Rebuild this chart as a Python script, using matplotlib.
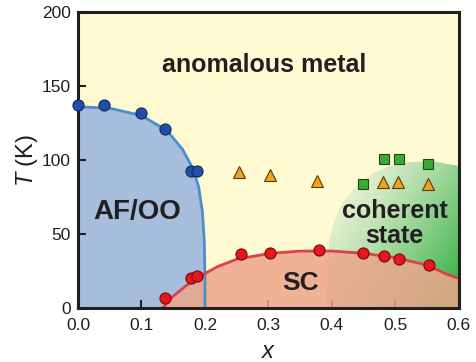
import numpy as np
import matplotlib
matplotlib.use("Agg")
import matplotlib.pyplot as plt
from matplotlib.path import Path
from matplotlib.patches import PathPatch

plt.rcParams['font.family'] = ['Liberation Sans', 'DejaVu Sans']
plt.rcParams['mathtext.fontset'] = 'custom'
plt.rcParams['mathtext.it'] = 'Liberation Sans:italic'
plt.rcParams['mathtext.rm'] = 'Liberation Sans'

# measured points
af_x = [0.0, 0.041, 0.10, 0.137, 0.178, 0.188]
af_T = [137, 137, 132, 121, 92.5, 92.5]

sc_x = [0.137, 0.178, 0.188, 0.256, 0.303, 0.379, 0.449, 0.482, 0.505, 0.553]
sc_T = [7, 20, 21.5, 36.5, 37, 39, 37, 35, 33, 29]

tri_x = [0.254, 0.302, 0.377, 0.480, 0.504, 0.551]
tri_T = [92, 90, 86, 85, 85, 84]

sq_x = [0.449, 0.482, 0.505, 0.551]
sq_T = [84, 101, 101, 97]

# phase boundaries (guides to the eye)
af_bx = [0.0, 0.05, 0.10, 0.14, 0.165, 0.18, 0.19, 0.196, 0.199, 0.200, 0.200]
af_bT = [136, 135, 130, 120, 107, 95, 82, 65, 45, 20, 0]

sc_bx = [0.133, 0.15, 0.17, 0.19, 0.22, 0.25, 0.30, 0.35, 0.40, 0.45, 0.50, 0.55, 0.58, 0.60]
sc_bT = [0, 8, 15, 21, 28, 33, 36.8, 38.5, 38.5, 37, 34, 29, 23, 20]

coh_bx = [0.392, 0.393, 0.396, 0.403, 0.415, 0.435, 0.46, 0.49, 0.52, 0.56, 0.60, 0.60]
coh_bT = [0, 30, 46, 58, 70, 81, 90, 96, 98.5, 99, 96, 0]

fig = plt.figure(figsize=(4.77, 3.62), dpi=100)
ax = fig.add_axes([0.1635, 0.149, 0.7985, 0.818])
ax.set_xlim(0, 0.6)
ax.set_ylim(0, 200)
ax.set_facecolor('#FFFAD2')

# AF/OO region
ax.fill_betweenx(af_bT, 0, af_bx, color='#A6BEDC', lw=0, zorder=1)

# coherent state region with green gradient
xs = np.linspace(0.39, 0.6, 200)
ts = np.linspace(0, 100, 200)
XX, TT = np.meshgrid(xs, ts)
g = np.clip(0.75 * (XX - 0.39) / 0.21 + 0.55 * (1 - TT / 100) - 0.25, 0, 1) ** 1.2
pale = np.array([228, 240, 210]) / 255
deep = np.array([50, 175, 65]) / 255
img = pale[None, None, :] * (1 - g[..., None]) + deep[None, None, :] * g[..., None]
im = ax.imshow(img, extent=(0.39, 0.6, 0, 100), origin='lower', aspect='auto', zorder=1)
clip = PathPatch(Path(np.column_stack([coh_bx, coh_bT])), transform=ax.transData, fc='none', lw=0)
ax.add_patch(clip)
im.set_clip_path(clip)

# SC dome
ax.fill_between(sc_bx, 0, sc_bT, color='#EDA68A', alpha=0.85, lw=0, zorder=2)

ax.plot(af_bx, af_bT, color='#4A90C8', lw=2, zorder=3)
ax.plot(sc_bx, sc_bT, color='#E0404A', lw=2, zorder=3)

ax.plot(af_x, af_T, 'o', ms=8, mfc='#1F4FA8', mec='#0E2A5E', mew=0.8, zorder=8, clip_on=False)
ax.plot(sc_x, sc_T, 'o', ms=8, mfc='#E8171E', mec='#6E0A0A', mew=0.8, zorder=5)
ax.plot(tri_x, tri_T, '^', ms=8, mfc='#F0A320', mec='#5A3A05', mew=0.8, zorder=5)
ax.plot(sq_x, sq_T, 's', ms=7, mfc='#3AAA35', mec='#1A4A15', mew=0.8, zorder=5)

ax.text(0.294, 164, 'anomalous metal', ha='center', va='center', fontsize=18, fontweight='bold', color='#231F20', zorder=6)
ax.text(0.093, 65, 'AF/OO', ha='center', va='center', fontsize=20, fontweight='bold', color='#231F20', zorder=6)
ax.text(0.351, 17, 'SC', ha='center', va='center', fontsize=19, fontweight='bold', color='#231F20', zorder=6)
ax.text(0.499, 57, 'coherent\nstate', ha='center', va='center', fontsize=18, fontweight='bold', color='#231F20', linespacing=1.05, zorder=6)

ax.set_xticks([0.0, 0.1, 0.2, 0.3, 0.4, 0.5, 0.6])
ax.set_xticklabels(['0.0', '0.1', '0.2', '0.3', '0.4', '0.5', '0.6'])
ax.set_yticks([0, 50, 100, 150, 200])
ax.tick_params(direction='in', length=6, width=1.5, labelsize=12.5, color='#231F20', labelcolor='#231F20')
ax.tick_params(axis='x', pad=7)
ax.tick_params(axis='y', pad=5)
for s in ax.spines.values():
    s.set_linewidth(2.2)
    s.set_color('#231F20')
    s.set_zorder(7)

ax.set_xlabel('$x$', fontsize=17, color='#231F20')
ax.set_ylabel('$T$ (K)', fontsize=17, color='#231F20')
ax.xaxis.set_label_coords(0.5, -0.112)
ax.yaxis.set_label_coords(-0.10, 0.5)

fig.savefig('out.png', dpi=100)
